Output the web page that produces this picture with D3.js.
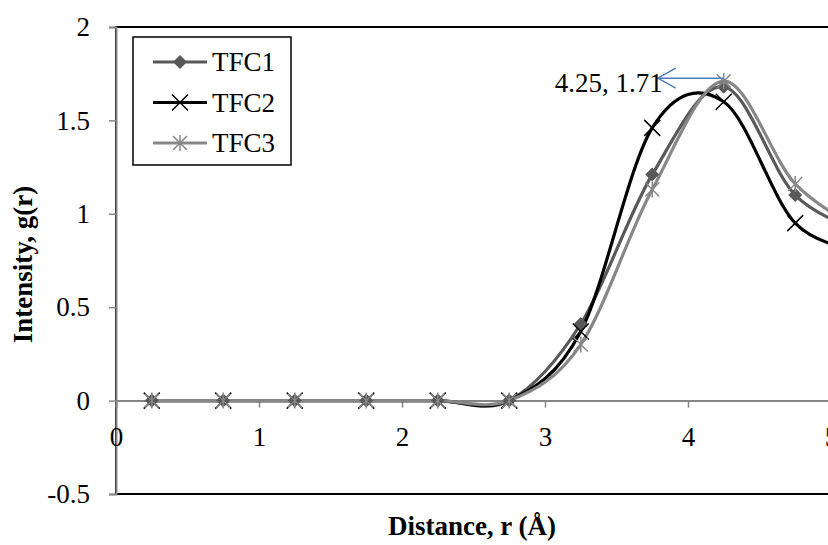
<!DOCTYPE html>
<html>
<head>
<meta charset="utf-8">
<script src="https://cdn.jsdelivr.net/npm/d3@7"></script>
<style>
  body { margin: 0; background: #fff; }
  svg { display: block; font-family: "Liberation Serif", "Times New Roman", serif; }
</style>
</head>
<body>
<svg id="chart" width="828" height="545"></svg>
<script>
// data
const distance = [0.25, 0.75, 1.25, 1.75, 2.25, 2.75, 3.25, 3.75, 4.25, 4.75, 5.25];
const tfc1 = [0, 0, 0, 0, 0, 0, 0.41, 1.21, 1.68, 1.10, 0.90];
const tfc2 = [0, 0, 0, 0, 0, 0, 0.37, 1.46, 1.60, 0.95, 0.80];
const tfc3 = [0, 0, 0, 0, 0, 0, 0.30, 1.13, 1.71, 1.16, 0.90];
const seriesNames = ['TFC1', 'TFC2', 'TFC3'];
const xTicks = [0, 1, 2, 3, 4, 5];
const yTicks = [-0.5, 0, 0.5, 1, 1.5, 2];

document.addEventListener('DOMContentLoaded', function () {
    const svg = d3.select('#chart');
    const fs = 27;

    const margin = { top: 27, left: 116, bottom: 494 };
    const x = d3.scaleLinear().domain([0, 5]).range([margin.left, margin.left + 5 * 143]);
    const y = d3.scaleLinear().domain([-0.5, 2]).range([margin.bottom, margin.top]);

    // plot border
    svg.append('rect')
        .attr('x', x(0)).attr('y', y(2))
        .attr('width', x(5) - x(0)).attr('height', y(-0.5) - y(2))
        .attr('fill', 'none').attr('stroke', '#000').attr('stroke-width', 2);

    // y axis
    const yAxis = svg.append('g')
        .attr('transform', `translate(${x(0)},0)`)
        .call(d3.axisLeft(y).tickValues(yTicks).tickSize(7).tickFormat(d3.format('')));
    yAxis.select('.domain').attr('stroke', '#868686').attr('stroke-width', 2);
    yAxis.selectAll('.tick line').attr('stroke', '#868686').attr('stroke-width', 1.5);
    yAxis.selectAll('.tick text')
        .attr('x', -26).attr('font-size', fs).attr('fill', '#000')
        .attr('font-family', '"Liberation Serif", serif')
        .text(d => d < 0 ? '-' + Math.abs(d) : d);

    // x axis at y = 0
    const xAxis = svg.append('g')
        .attr('transform', `translate(0,${y(0)})`)
        .call(d3.axisBottom(x).tickValues(xTicks).tickSize(7).tickFormat(d3.format('d')));
    xAxis.select('.domain').attr('stroke', '#868686').attr('stroke-width', 2);
    xAxis.selectAll('.tick line').attr('stroke', '#868686').attr('stroke-width', 1.5);
    xAxis.selectAll('.tick text')
        .attr('y', 26).attr('font-size', fs).attr('fill', '#000')
        .attr('font-family', '"Liberation Serif", serif');

    // series
    const series = [
        { name: seriesNames[0], values: tfc1, color: '#595959', marker: 'diamond' },
        { name: seriesNames[1], values: tfc2, color: '#000000', marker: 'cross' },
        { name: seriesNames[2], values: tfc3, color: '#878787', marker: 'star' }
    ];

    const line = d3.line()
        .x((d, i) => x(distance[i]))
        .y(d => y(d))
        .curve(d3.curveCardinal.tension(0));

    function drawMarker(g, type, color) {
        if (type === 'diamond') {
            g.append('path').attr('d', 'M0,-7L7,0L0,7L-7,0Z').attr('fill', color);
        } else if (type === 'cross') {
            g.append('path').attr('d', 'M-8,-8L8,8M-8,8L8,-8')
                .attr('stroke', color).attr('stroke-width', 1.5).attr('fill', 'none');
        } else {
            g.append('path').attr('d', 'M-7,-7L7,7M-7,7L7,-7M0,-8L0,8')
                .attr('stroke', color).attr('stroke-width', 1.5).attr('fill', 'none');
        }
    }

    series.forEach(s => {
        svg.append('path')
            .datum(s.values)
            .attr('d', line)
            .attr('fill', 'none')
            .attr('stroke', s.color)
            .attr('stroke-width', 3.2);
    });
    series.forEach(s => {
        s.values.forEach((v, i) => {
            const g = svg.append('g').attr('transform', `translate(${x(distance[i])},${y(v)})`);
            drawMarker(g, s.marker, s.color);
        });
    });

    // annotation of the peak, arrow pointing left at the label
    const peakX = distance[8], peakY = tfc3[8];
    svg.append('defs').append('marker')
        .attr('id', 'arrow').attr('markerUnits', 'userSpaceOnUse')
        .attr('viewBox', '0 0 20 22')
        .attr('refX', 1).attr('refY', 11)
        .attr('markerWidth', 20).attr('markerHeight', 22)
        .attr('orient', 'auto')
        .append('path').attr('d', 'M19,1L1,11L19,21')
        .attr('fill', 'none').attr('stroke', '#4a7ebb').attr('stroke-width', 1.5);
    svg.append('line')
        .attr('x1', x(peakX) - 66).attr('y1', y(peakY) - 3)
        .attr('x2', x(peakX)).attr('y2', y(peakY) - 3)
        .attr('stroke', '#4a7ebb').attr('stroke-width', 1.5)
        .attr('marker-start', 'url(#arrow)');
    svg.append('text')
        .attr('x', x(peakX) - 61).attr('y', y(peakY) + 11)
        .attr('text-anchor', 'end').attr('font-size', fs)
        .text(peakX + ', ' + peakY);

    // legend
    const legend = svg.append('g');
    legend.append('rect')
        .attr('x', 133).attr('y', 37).attr('width', 158).attr('height', 128)
        .attr('fill', '#fff').attr('stroke', '#000').attr('stroke-width', 1.5);
    series.forEach((s, i) => {
        const ly = 62 + i * 40.5;
        legend.append('line')
            .attr('x1', 153).attr('x2', 207).attr('y1', ly).attr('y2', ly)
            .attr('stroke', s.color).attr('stroke-width', 3.2);
        drawMarker(legend.append('g').attr('transform', `translate(180,${ly})`), s.marker, s.color);
        legend.append('text')
            .attr('x', 212).attr('y', ly + 9)
            .attr('font-size', fs).text(s.name);
    });

    // axis titles
    svg.append('text')
        .attr('transform', `translate(32,${(y(2) + y(-0.5)) / 2 + 4}) rotate(-90)`)
        .attr('text-anchor', 'middle').attr('font-size', fs).attr('font-weight', 'bold')
        .text('Intensity, g(r)');
    svg.append('text')
        .attr('x', 472).attr('y', 535)
        .attr('text-anchor', 'middle').attr('font-size', fs).attr('font-weight', 'bold')
        .text('Distance, r (Å)');
});
</script>
</body>
</html>
